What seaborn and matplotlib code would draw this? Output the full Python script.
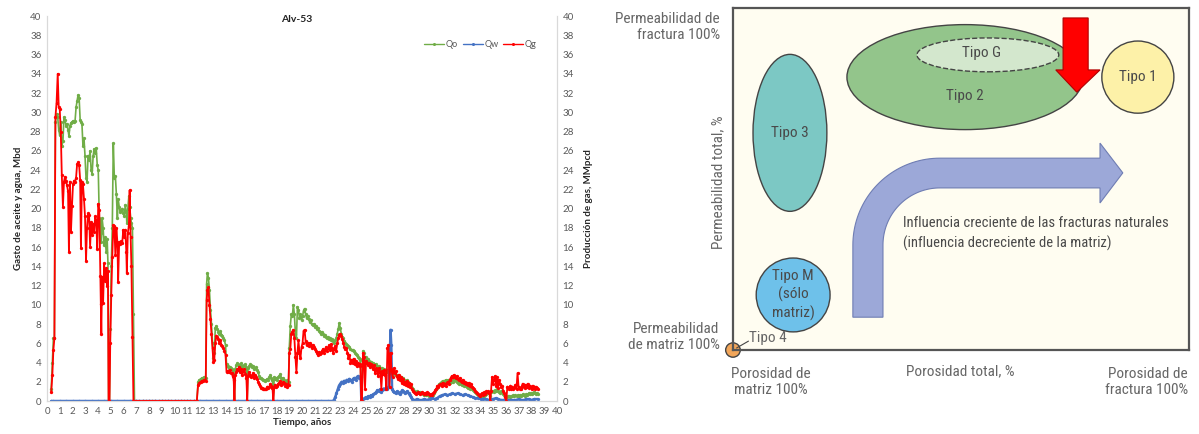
import matplotlib
matplotlib.use('Agg')
import matplotlib.pyplot as plt
from matplotlib.patches import Ellipse, Polygon
from matplotlib.lines import Line2D
import numpy as np
import pandas as pd
import seaborn as sns

# ---------------- data: production history Alv-53 ----------------
# first production period
anos_1 = [0.33, 0.42, 0.50, 0.58, 0.66, 0.75, 0.84, 0.92,
          1.00, 1.08, 1.16, 1.25, 1.33, 1.41, 1.49, 1.57,
          1.65, 1.72, 1.80, 1.88, 1.96, 2.04, 2.12, 2.20,
          2.28, 2.36, 2.44, 2.52, 2.60, 2.66, 2.74, 2.82,
          2.90, 2.98, 3.06, 3.14, 3.22, 3.30, 3.38, 3.46,
          3.54, 3.62, 3.70, 3.78, 3.86, 3.94, 4.02, 4.10,
          4.18, 4.22, 4.26, 4.32, 4.40, 4.48, 4.56, 4.64,
          4.72, 4.78, 4.83, 4.90, 4.96, 5.04, 5.12, 5.20,
          5.28, 5.36, 5.44, 5.52, 5.58, 5.66, 5.74, 5.82,
          5.90, 5.98, 6.06, 6.14, 6.22, 6.26, 6.34, 6.42,
          6.48, 6.56, 6.62, 6.70, 6.78, 6.86]
qo_1 = [1.2, 4.0, 6.5, 6.5, 29.0, 29.8, 29.5, 28.2,
        27.6, 29.0, 26.5, 27.0, 29.5, 29.2, 28.6, 28.8,
        28.2, 27.5, 28.6, 28.9, 29.0, 29.1, 29.0, 29.1,
        30.5, 31.2, 31.8, 31.5, 29.2, 29.0, 28.8, 26.5,
        27.3, 25.5, 23.2, 22.8, 25.5, 25.0, 26.0, 24.0,
        23.6, 25.5, 26.2, 25.8, 26.3, 24.5, 24.0, 19.0,
        18.8, 17.5, 16.5, 19.0, 18.0, 16.2, 17.0, 15.5,
        16.8, 14.3, 0.0, 0.0, 7.5, 14.0, 18.0, 26.8,
        23.2, 23.4, 21.5, 19.0, 21.0, 20.2, 19.6, 19.8,
        20.0, 19.5, 19.2, 20.4, 19.6, 18.5, 20.0, 21.3,
        20.2, 19.0, 18.5, 18.0, 9.0, 0.0]
qg_1 = [0.9, 2.7, 5.3, 6.5, 29.5, 31.0, 34.0, 30.5,
        30.3, 28.0, 23.5, 20.2, 22.8, 23.3, 22.9, 22.4,
        21.8, 15.5, 22.8, 17.6, 20.3, 22.5, 22.9, 22.8,
        23.2, 24.6, 24.8, 24.5, 23.0, 15.9, 22.8, 22.5,
        21.0, 19.2, 14.6, 18.0, 19.5, 19.3, 16.0, 18.6,
        17.2, 18.4, 17.6, 19.2, 18.8, 15.8, 20.5, 19.8,
        13.0, 10.1, 7.0, 12.9, 10.2, 14.3, 12.5, 13.8,
        12.0, 13.5, 0.0, 0.0, 6.0, 11.0, 15.0, 18.3,
        18.2, 15.2, 18.0, 16.5, 12.4, 16.5, 16.3, 16.6,
        16.4, 17.8, 17.0, 17.8, 15.5, 13.3, 17.5, 18.2,
        21.9, 17.0, 14.0, 6.7, 0.0, 0.0]

# shut-in period
anos_2 = [7.00, 7.25, 7.50, 7.75, 8.00, 8.25, 8.50, 8.75, 9.00, 9.25,
          9.50, 9.75, 10.00, 10.25, 10.50, 10.75, 11.00, 11.25, 11.50, 11.75]
qo_2 = [0.0, 0.0, 0.0, 0.0, 0.0, 0.0, 0.0, 0.0, 0.0, 0.0,
        0.0, 0.0, 0.0, 0.0, 0.0, 0.0, 0.0, 0.0, 0.0, 0.0]
qg_2 = [0.0, 0.0, 0.0, 0.0, 0.0, 0.0, 0.0, 0.0, 0.0, 0.0,
        0.0, 0.0, 0.0, 0.0, 0.0, 0.0, 0.0, 0.0, 0.0, 0.0]

# second production period
anos_3 = [11.85, 11.95, 12.05, 12.15, 12.25, 12.35, 12.45, 12.52,
          12.58, 12.66, 12.74, 12.82, 12.90, 12.98, 13.05, 13.12,
          13.20, 13.28, 13.36, 13.44, 13.52, 13.60, 13.68, 13.76,
          13.84, 13.92, 14.00, 14.08, 14.16, 14.24, 14.32, 14.40,
          14.48, 14.56, 14.64, 14.70, 14.76, 14.84, 14.92, 15.00,
          15.08, 15.16, 15.24, 15.32, 15.40, 15.48, 15.56, 15.64,
          15.70, 15.76, 15.84, 15.92, 16.00, 16.08, 16.16, 16.24,
          16.32, 16.40, 16.48, 16.56, 16.64, 16.72, 16.80, 16.88,
          16.96, 17.04, 17.12, 17.20, 17.28, 17.36, 17.44, 17.52,
          17.60, 17.68, 17.75, 17.82, 17.90, 17.98, 18.06, 18.14,
          18.22, 18.30, 18.38, 18.46, 18.54, 18.62, 18.70, 18.78,
          18.86, 18.94, 19.00, 19.08, 19.16, 19.24, 19.32, 19.40,
          19.48, 19.56, 19.64, 19.72, 19.80, 19.88, 19.96, 20.04,
          20.12, 20.20, 20.28, 20.36, 20.44, 20.52, 20.60, 20.68,
          20.76, 20.84, 20.92, 21.00, 21.08, 21.16, 21.24, 21.32,
          21.40, 21.48, 21.56, 21.64, 21.72, 21.80, 21.88, 21.96,
          22.04, 22.12, 22.20, 22.28, 22.36, 22.44, 22.52, 22.60,
          22.68, 22.76, 22.84, 22.92, 23.00, 23.08, 23.16, 23.24,
          23.32, 23.40, 23.48, 23.56, 23.64, 23.72, 23.80, 23.88,
          23.96, 24.04, 24.12, 24.20, 24.28, 24.36, 24.44, 24.52,
          24.58]
qo_3 = [2.0, 2.2, 2.3, 2.4, 2.4, 2.5, 2.4, 12.2,
        13.3, 12.8, 11.5, 9.5, 8.0, 6.0, 4.5, 5.0,
        7.6, 7.8, 7.5, 7.2, 7.0, 7.3, 6.9, 6.8,
        6.5, 6.3, 5.8, 3.8, 3.6, 3.4, 3.5, 3.4,
        3.3, 3.2, 2.8, 0.0, 3.3, 3.7, 3.9, 3.8,
        3.6, 3.7, 3.9, 3.5, 3.6, 3.7, 3.8, 3.5,
        0.0, 3.4, 3.6, 3.8, 3.7, 3.5, 3.6, 3.3,
        3.4, 3.5, 3.2, 3.0, 2.6, 2.4, 2.4, 2.3,
        2.2, 2.2, 2.1, 2.2, 2.3, 2.2, 2.5, 2.7,
        2.4, 2.2, 0.0, 2.5, 2.3, 2.4, 2.2, 2.5,
        2.6, 2.8, 2.4, 2.3, 2.4, 2.2, 2.1, 2.0,
        2.2, 2.0, 5.5, 7.8, 9.0, 8.8, 10.0, 9.0,
        7.0, 6.5, 9.8, 9.5, 8.6, 9.0, 8.4, 8.8,
        9.4, 9.6, 9.0, 8.6, 8.8, 8.5, 8.2, 8.4,
        8.0, 7.9, 8.0, 7.7, 7.8, 7.5, 7.6, 7.3,
        7.2, 7.0, 7.2, 7.0, 6.8, 6.9, 6.7, 6.5,
        6.6, 6.4, 6.5, 6.3, 6.4, 6.2, 6.0, 6.3,
        6.5, 7.0, 7.5, 8.1, 7.6, 7.0, 6.6, 6.5,
        6.2, 6.0, 5.9, 5.8, 5.7, 5.6, 5.4, 5.3,
        5.3, 5.2, 5.0, 4.9, 4.8, 4.6, 4.5, 4.4,
        4.3]
qg_3 = [1.7, 1.9, 2.0, 2.1, 2.1, 2.2, 2.1, 10.5,
        11.5, 11.8, 10.0, 8.5, 7.0, 5.5, 4.1, 4.3,
        6.0, 6.8, 6.6, 6.4, 6.0, 6.3, 5.8, 5.7,
        5.5, 5.2, 4.8, 3.0, 3.1, 3.0, 3.2, 2.9,
        2.9, 2.6, 2.2, 0.0, 2.7, 3.0, 3.3, 3.2,
        3.5, 3.0, 3.3, 2.7, 3.1, 3.3, 2.8, 2.4,
        0.0, 2.6, 3.0, 2.7, 2.5, 2.6, 2.9, 2.4,
        2.7, 2.5, 2.3, 2.0, 1.8, 1.6, 1.4, 1.4,
        1.3, 1.3, 1.2, 1.3, 1.5, 1.4, 1.5, 1.8,
        1.6, 1.4, 0.0, 1.5, 1.7, 1.5, 1.6, 1.8,
        1.9, 2.1, 1.7, 1.8, 2.0, 1.9, 1.6, 1.8,
        1.5, 1.7, 5.0, 5.4, 7.0, 7.2, 7.4, 6.5,
        4.6, 3.0, 5.0, 6.3, 5.0, 4.5, 5.6, 6.0,
        7.3, 7.4, 6.2, 5.8, 6.0, 5.7, 6.0, 5.8,
        5.5, 5.8, 5.6, 5.4, 5.2, 5.0, 4.8, 5.1,
        4.9, 5.0, 5.2, 5.4, 5.0, 5.3, 5.6, 5.2,
        5.5, 5.8, 5.3, 5.9, 5.5, 5.0, 5.4, 5.7,
        5.2, 6.0, 6.5, 6.9, 7.0, 6.8, 6.4, 6.0,
        5.6, 5.4, 5.5, 5.0, 4.5, 4.8, 4.0, 4.3,
        3.9, 4.4, 3.8, 4.2, 3.6, 3.9, 3.7, 3.8,
        3.6]

# late period
anos_4 = [24.64, 24.70, 24.78, 24.86, 24.94, 25.02, 25.10, 25.18,
          25.26, 25.34, 25.42, 25.50, 25.58, 25.66, 25.74, 25.82,
          25.90, 25.98, 26.06, 26.14, 26.22, 26.30, 26.38, 26.46,
          26.54, 26.62, 26.70, 26.78, 26.86, 26.94, 27.02, 27.10,
          27.18, 27.26, 27.34, 27.42, 27.50, 27.58, 27.66, 27.74,
          27.82, 27.90, 27.98, 28.06, 28.14, 28.22, 28.30, 28.38,
          28.46, 28.54, 28.62, 28.70, 28.78, 28.86, 28.94, 29.02,
          29.10, 29.18, 29.26, 29.34, 29.42, 29.50, 29.58, 29.66,
          29.74, 29.82, 29.90, 29.98, 30.06, 30.14, 30.22, 30.30,
          30.38, 30.46, 30.54, 30.62, 30.70, 30.78, 30.86, 30.94,
          31.02, 31.10, 31.18, 31.26, 31.34, 31.42, 31.50, 31.58,
          31.66, 31.74, 31.82, 31.90, 31.98, 32.06, 32.14, 32.22,
          32.30, 32.38, 32.46, 32.54, 32.62, 32.70, 32.78, 32.86,
          32.94, 33.02, 33.10, 33.18, 33.26, 33.34, 33.42, 33.50,
          33.58, 33.66, 33.74, 33.82, 33.90, 33.98, 34.06, 34.14,
          34.22, 34.30, 34.38, 34.46, 34.54, 34.62, 34.70, 34.76,
          34.82, 34.90, 34.98, 35.06, 35.14, 35.22, 35.30, 35.38,
          35.46, 35.54, 35.62, 35.70, 35.78, 35.86, 35.94, 36.02,
          36.10, 36.18, 36.26, 36.34, 36.42, 36.50, 36.58, 36.66,
          36.74, 36.82, 36.90, 36.98, 37.06, 37.14, 37.22, 37.30,
          37.38, 37.46, 37.54, 37.62, 37.70, 37.78, 37.86, 37.94,
          38.02, 38.10, 38.18, 38.26, 38.34, 38.42, 38.50]
qo_4 = [0.0, 0.2, 5.2, 5.0, 4.5, 4.6, 4.3, 4.4,
        4.2, 4.0, 4.1, 4.0, 3.9, 3.8, 3.7, 3.8,
        3.6, 3.5, 3.6, 3.4, 3.3, 3.4, 3.2, 3.3,
        3.1, 3.0, 3.2, 3.0, 2.9, 3.0, 2.8, 2.9,
        3.0, 2.8, 2.7, 2.6, 2.7, 2.5, 2.4, 2.5,
        2.3, 2.4, 2.2, 2.1, 2.0, 2.2, 2.0, 1.9,
        1.8, 1.6, 1.4, 1.2, 1.0, 0.9, 0.9, 1.0,
        0.9, 0.8, 0.9, 0.8, 0.8, 0.7, 0.6, 0.7,
        0.6, 0.7, 0.6, 0.5, 0.5, 0.6, 0.5, 0.6,
        0.8, 1.0, 1.2, 1.4, 1.6, 1.8, 1.9, 2.0,
        2.1, 2.0, 2.1, 2.2, 2.1, 2.2, 2.0, 1.9,
        2.0, 2.1, 2.0, 2.2, 2.3, 2.1, 2.0, 1.9,
        1.8, 1.9, 1.8, 1.7, 1.8, 1.6, 1.7, 1.6,
        1.5, 1.4, 1.5, 1.3, 1.4, 1.2, 1.1, 1.0,
        0.9, 0.8, 0.7, 0.6, 0.5, 0.5, 0.6, 0.5,
        0.4, 0.5, 0.6, 0.7, 0.8, 0.9, 0.8, 0.5,
        0.9, 1.0, 1.0, 0.9, 1.1, 1.0, 1.2, 1.0,
        0.9, 0.8, 1.0, 0.9, 0.7, 0.6, 0.5, 0.4,
        0.4, 0.5, 0.5, 0.4, 0.5, 0.5, 0.6, 0.5,
        0.6, 0.5, 0.6, 0.5, 0.6, 0.5, 0.6, 0.7,
        0.6, 0.5, 0.7, 0.6, 0.7, 0.8, 0.7, 0.8,
        0.7, 0.8, 0.9, 0.8, 0.7, 0.8, 0.7]
qg_4 = [0.0, 0.0, 5.0, 4.6, 1.3, 4.2, 4.0, 3.7,
        3.9, 3.5, 3.8, 3.6, 3.3, 3.7, 2.9, 3.4,
        3.2, 2.6, 3.4, 3.0, 1.3, 3.1, 2.8, 3.2,
        2.7, 1.2, 5.5, 5.8, 1.5, 5.0, 3.2, 2.5,
        3.4, 2.9, 3.1, 2.6, 2.3, 2.7, 2.2, 2.5,
        1.9, 2.3, 1.8, 2.0, 1.7, 2.1, 1.6, 1.9,
        1.5, 1.8, 1.3, 1.0, 0.9, 0.8, 0.7, 0.8,
        0.9, 0.8, 0.7, 0.8, 0.9, 0.8, 0.7, 0.8,
        0.7, 0.9, 0.8, 0.7, 0.6, 0.7, 0.6, 0.8,
        0.9, 1.1, 1.3, 1.6, 1.5, 1.7, 1.8, 1.6,
        1.9, 1.7, 1.8, 1.6, 1.9, 2.0, 1.8, 2.2,
        2.4, 2.6, 2.5, 2.7, 2.5, 2.4, 2.6, 2.3,
        2.2, 2.4, 2.1, 2.0, 2.2, 1.9, 2.0, 1.8,
        1.9, 1.7, 1.9, 1.6, 1.8, 1.5, 1.4, 1.2,
        1.0, 0.9, 0.8, 0.7, 0.6, 0.5, 0.7, 0.8,
        0.6, 0.9, 0.7, 1.0, 0.9, 1.0, 0.8, 0.0,
        1.0, 2.5, 1.8, 2.2, 2.6, 1.6, 2.5, 1.4,
        2.2, 1.8, 1.5, 1.6, 1.0, 0.8, 0.4, 0.0,
        1.5, 1.4, 1.2, 1.6, 1.3, 1.5, 1.2, 1.4,
        1.7, 1.3, 2.9, 1.5, 1.3, 1.2, 1.5, 1.8,
        1.6, 1.4, 1.7, 1.5, 1.8, 1.4, 1.6, 1.5,
        1.2, 1.6, 1.4, 1.3, 1.5, 1.4, 1.3]

# water rate
anos_qw_1 = [0.33, 0.5, 1.0, 1.5, 2.0, 2.5, 3.0, 3.5, 4.0, 4.5,
             5.0, 5.5, 6.0, 6.5, 7.0, 7.5, 8.0, 8.5, 9.0, 9.5,
             10.0, 10.5, 11.0, 11.5, 12.0, 12.5, 13.0, 13.5, 14.0, 14.5,
             15.0, 15.5, 16.0, 16.5, 17.0, 17.5, 18.0, 18.5, 19.0, 19.5,
             20.0, 20.5, 21.0, 21.5, 22.0, 22.4]
qw_1 = [0.0, 0.0, 0.0, 0.0, 0.0, 0.0, 0.0, 0.0, 0.0, 0.0,
        0.0, 0.0, 0.0, 0.0, 0.0, 0.0, 0.0, 0.0, 0.0, 0.0,
        0.0, 0.0, 0.0, 0.0, 0.0, 0.0, 0.0, 0.0, 0.0, 0.0,
        0.0, 0.0, 0.0, 0.0, 0.0, 0.0, 0.0, 0.0, 0.0, 0.0,
        0.0, 0.0, 0.0, 0.0, 0.0, 0.0]
anos_qw_2 = [22.5, 22.6, 22.7, 22.8, 22.9, 23.0, 23.1, 23.2,
             23.3, 23.4, 23.5, 23.6, 23.7, 23.8, 23.9, 24.0,
             24.1, 24.2, 24.3, 24.4, 24.5, 24.6, 24.65, 24.8,
             24.9, 25.0, 25.1, 25.2, 25.3, 25.4, 25.5, 25.6,
             25.7, 25.8, 25.9, 26.0, 26.1, 26.2, 26.3, 26.4,
             26.5, 26.6, 26.7, 26.8, 26.87, 26.94, 27.0, 27.06,
             27.15, 27.25, 27.35, 27.45, 27.55, 27.65, 27.75, 27.85,
             27.95, 28.05, 28.15, 28.25, 28.35, 28.45, 28.55, 28.65,
             28.75, 28.9, 29.0, 29.2, 29.4, 29.6, 29.8, 30.0,
             30.2, 30.4, 30.6, 30.8, 31.0, 31.2, 31.4, 31.6,
             31.8, 32.0, 32.2, 32.4, 32.6, 32.8, 33.0, 33.2,
             33.4, 33.6, 33.8, 34.0, 34.2, 34.4, 34.6, 34.8,
             35.0, 35.2, 35.4, 35.6, 35.8, 36.0, 36.2, 36.4,
             36.6, 36.8, 37.0, 37.2, 37.4, 37.6, 37.8, 38.0,
             38.2, 38.5]
qw_2 = [0.1, 0.4, 0.8, 1.2, 1.6, 1.8, 2.0, 1.9,
        2.1, 2.0, 2.2, 2.1, 2.3, 2.2, 2.0, 2.3,
        2.4, 2.2, 2.5, 2.6, 2.4, 2.5, 0.1, 0.2,
        0.3, 0.4, 0.3, 0.5, 0.4, 0.6, 0.5, 0.7,
        0.8, 0.9, 1.1, 1.0, 1.2, 0.9, 1.1, 1.3,
        1.2, 1.4, 1.3, 1.5, 4.0, 7.4, 5.8, 1.2,
        1.0, 0.9, 0.8, 1.0, 0.9, 0.7, 0.9, 1.1,
        1.0, 0.8, 0.9, 1.0, 0.8, 0.6, 0.4, 0.2,
        0.1, 0.1, 0.2, 0.1, 0.1, 0.2, 0.1, 0.2,
        0.3, 0.2, 0.3, 0.5, 0.6, 0.7, 0.6, 0.7,
        0.8, 0.7, 0.8, 0.7, 0.6, 0.7, 0.6, 0.5,
        0.4, 0.3, 0.3, 0.2, 0.2, 0.2, 0.1, 0.2,
        0.2, 0.3, 0.2, 0.1, 0.1, 0.0, 0.1, 0.1,
        0.1, 0.1, 0.2, 0.1, 0.1, 0.2, 0.2, 0.1,
        0.2, 0.2]

# ---------------- data: classification diagram ----------------
tipos = ['Tipo 3', 'Tipo 2', 'Tipo G', 'Tipo 1', 'Tipo M\n(sólo\nmatriz)', '']
tipo_x = [12.5, 50.9, 55.9, 88.8, 13.2, 0.0]
tipo_y = [63.5, 79.8, 86.3, 79.8, 16.1, 0.0]
tipo_w = [16.2, 51.8, 31.1, 15.8, 16.2, 3.2]
tipo_h = [45.9, 30.7, 9.9, 21.1, 21.6, 4.2]

# ---------------- style ----------------
sns.set_theme(style='white')
plt.rcParams['font.family'] = ['Lato', 'DejaVu Sans']
COND = ['Liberation Sans Narrow', 'Roboto Condensed', 'DejaVu Sans']
TICK_C = '#595959'

fig = plt.figure(figsize=(11.99, 4.34), dpi=100)

# ---------------- left: production chart ----------------
df = pd.DataFrame({'anos': anos_1 + anos_2 + anos_3 + anos_4,
                   'Qo': qo_1 + qo_2 + qo_3 + qo_4,
                   'Qg': qg_1 + qg_2 + qg_3 + qg_4})
dfw = pd.DataFrame({'anos': anos_qw_1 + anos_qw_2, 'Qw': qw_1 + qw_2})

ax = fig.add_axes([0.0392, 0.076, 0.4254, 0.887])
axg = ax.twinx()

c_qo, c_qw, c_qg = '#70AD47', '#4472C4', '#FF0000'
kw = dict(marker='o', markersize=2.4, markeredgewidth=0, estimator=None, sort=False)
sns.lineplot(data=df, x='anos', y='Qo', ax=ax, color=c_qo, linewidth=1.2, **kw)
sns.lineplot(data=dfw, x='anos', y='Qw', ax=ax, color=c_qw, linewidth=1.8, **kw)
sns.lineplot(data=df, x='anos', y='Qg', ax=axg, color=c_qg, linewidth=1.3, **kw)

for a in (ax, axg):
    a.set_xlim(0, 40)
    a.set_ylim(0, 40)
    a.set_yticks(range(0, 41, 2))
    a.tick_params(length=0, labelsize=7, labelcolor=TICK_C, pad=4)
    a.spines['top'].set_visible(False)
    for s in ('left', 'right', 'bottom'):
        a.spines[s].set_color('#d9d9d9')
        a.spines[s].set_linewidth(0.8)
ax.set_xticks(range(0, 41, 1))
ax.set_xlabel('Tiempo, años', fontsize=7, fontweight='bold', labelpad=2)
ax.set_ylabel('Gasto de aceite y agua, Mbd', fontsize=7, fontweight='bold', labelpad=5)
axg.set_ylabel('Producción de gas, MMpcd', fontsize=7, fontweight='bold', labelpad=7)
ax.text(0.49, 0.99, 'Alv-53', transform=ax.transAxes, ha='center', va='center',
        fontsize=7.5, fontweight='bold', color='#222222')

handles = [Line2D([], [], color=c, lw=1.0, marker='o', markersize=2.2, markeredgewidth=0)
           for c in (c_qo, c_qw, c_qg)]
axg.legend(handles, ['Qo', 'Qw', 'Qg'], loc='center', bbox_to_anchor=(0.85, 0.927),
           ncol=3, frameon=False, fontsize=6.5, handlelength=2.2, handletextpad=0.2,
           columnspacing=0.5, labelcolor=TICK_C)

# ---------------- right: fracture classification diagram ----------------
dx = fig.add_axes([0.6113, 0.1935, 0.3803, 0.788])
dx.set_xlim(0, 100)
dx.set_ylim(0, 100)
dx.set_xticks([])
dx.set_yticks([])
dx.set_facecolor('#FFFDF1')
for s in dx.spines.values():
    s.set_color('#555555')
    s.set_linewidth(1.6)

fills = ['#7CC8C4', '#93C58B', '#D3E7CD', '#FDF1A8', '#6EC1EA', '#F2A65A']
styles = ['-', '-', '--', '-', '-', '-']
for lab, x, y, w, h, fc, ls in zip(tipos, tipo_x, tipo_y, tipo_w, tipo_h, fills, styles):
    dx.add_patch(Ellipse((x, y), w, h, facecolor=fc, edgecolor='#444444',
                         linewidth=1.0, linestyle=ls, clip_on=False, zorder=2))

# red arrow (downward)
red = Polygon([(72.4, 97.1), (77.9, 97.1), (77.9, 81.9), (80.5, 81.9), (75.4, 75.4),
               (70.8, 81.9), (72.4, 81.9)], closed=True, facecolor='#FF0000',
               edgecolor='#B00000', linewidth=0.8, zorder=3)
dx.add_patch(red)

# curved blue arrow
cx, cy = 45.4, 30.7
th = np.linspace(np.pi, np.pi / 2, 40)
outer = np.column_stack([cx + 19.1 * np.cos(th), cy + 25.4 * np.sin(th)])
inner = np.column_stack([cx + 12.5 * np.cos(th[::-1]), cy + 16.7 * np.sin(th[::-1])])
pts = np.vstack([[[26.3, 9.6]], outer,
                 [[80.5, 56.1], [80.5, 60.5], [85.5, 51.8], [80.5, 43.0], [80.5, 47.4]],
                 inner, [[32.9, 9.6]]])
dx.add_patch(Polygon(pts, closed=True, facecolor='#9CA8D8', edgecolor='#6F7DB3',
                     linewidth=0.8, zorder=2))

lab_c = '#4a4a4a'
for lab, x, y in zip(tipos[:5], tipo_x[:5], tipo_y[:5]):
    ty = y
    if lab == 'Tipo 2':
        ty = y - 5.5
    if lab == 'Tipo G':
        x, ty = x - 1.5, y + 0.5
    dx.text(x, ty, lab, ha='center', va='center', fontsize=11, color=lab_c,
            family=COND, stretch='condensed', linespacing=1.3, zorder=4)

dx.text(37.3, 37.1, 'Influencia creciente de las fracturas naturales', ha='left', va='center',
        fontsize=10.5, color=lab_c, family=COND, stretch='condensed')
dx.text(37.3, 31.3, '(influencia decreciente de la matriz)', ha='left', va='center',
        fontsize=10.5, color=lab_c, family=COND, stretch='condensed')

ax_c = '#666666'
tk = dict(fontsize=11, color=ax_c, family=COND, stretch='condensed', clip_on=False)
dx.text(-2.9, 94.4, 'Permeabilidad de\nfractura 100%', ha='right', va='center',
        multialignment='right', **tk)
dx.text(-3.3, 49.0, 'Permeabilidad total, %', ha='center', va='center', rotation=90, **tk)
dx.text(-2.9, 3.8, 'Permeabilidad\nde matriz 100%', ha='right', va='center',
        multialignment='right', **tk)
dx.plot([0.8, 3.4], [0.6, 2.6], color='#444444', lw=0.8, clip_on=False)
dx.text(3.6, 3.5, 'Tipo 4', ha='left', va='center', **tk)
dx.text(8.3, -9.4, 'Porosidad de\nmatriz 100%', ha='center', va='center', **tk)
dx.text(49.8, -6.3, 'Porosidad total, %', ha='center', va='center', **tk)
dx.text(99.8, -9.4, 'Porosidad de\nfractura 100%', ha='right', va='center',
        multialignment='right', **tk)

fig.savefig('out.png', dpi=100)
